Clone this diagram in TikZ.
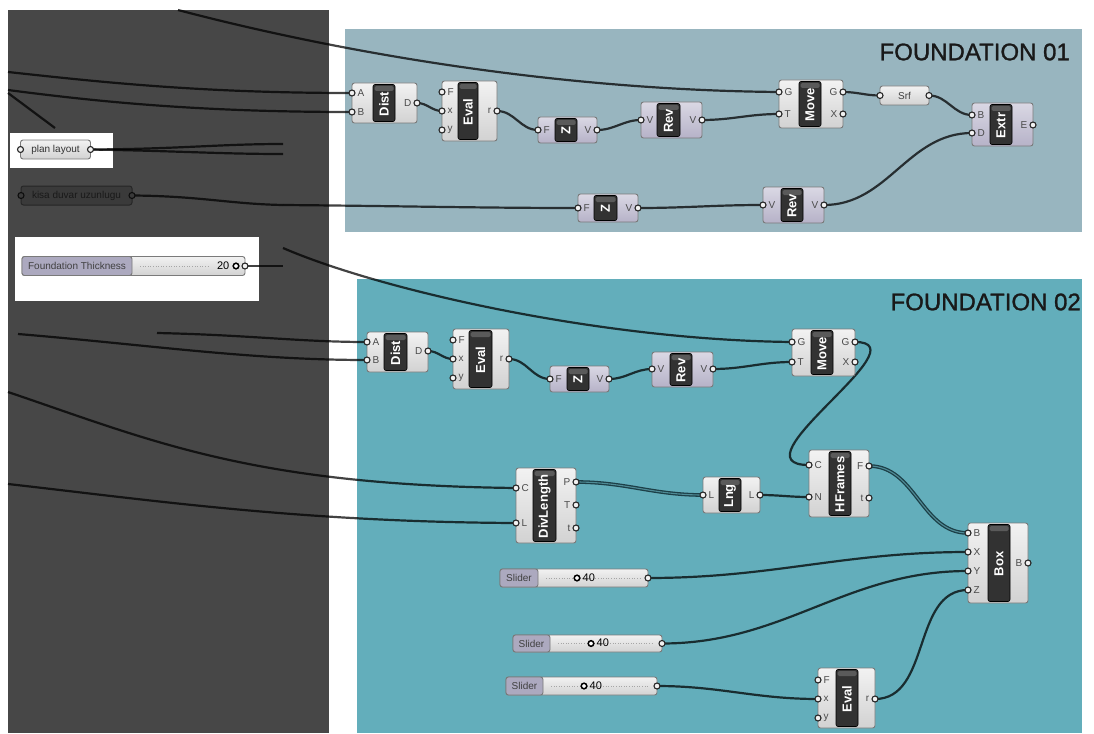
\documentclass[tikz,border=0pt]{standalone}
\usepackage{fontspec}
\setmainfont{Liberation Sans}
\setsansfont{Liberation Sans}
\newfontfamily\titlefont{Liberation Sans}[FakeBold=1.2]
\pgfdeclarelayer{bgl}
\pgfdeclarelayer{wirel}
\pgfsetlayers{bgl,wirel,main}
\definecolor{panel}{HTML}{474747}
\definecolor{grpA}{HTML}{98B5BF}
\definecolor{grpB}{HTML}{63AEBB}
\definecolor{compedge}{HTML}{7A7A7A}
\definecolor{wtop}{HTML}{F2F2F2}
\definecolor{wbot}{HTML}{D2D2D2}
\definecolor{ptop}{HTML}{DAD8E4}
\definecolor{pbot}{HTML}{B6B2C8}
\definecolor{blk}{HTML}{323232}
\definecolor{blkhi}{HTML}{5A5A5A}
\definecolor{slab}{HTML}{ACA9BF}
\definecolor{plabc}{HTML}{4A4A4A}
\definecolor{dwire}{HTML}{1C3F47}
\definecolor{kfill}{HTML}{3A3A3A}
\definecolor{kedge}{HTML}{262626}
\tikzset{
  wcomp/.style={top color=wtop,bottom color=wbot},
  pcomp/.style={top color=ptop,bottom color=pbot},
  compbox/.style={draw=compedge,line width=0.9pt,rounded corners=2.5pt,inner sep=0pt},
  blkbox/.style={fill=blk,draw=black,line width=0.6pt,rounded corners=2pt},
  blktext/.style={text=white,font=\bfseries\fontsize{13}{13}\selectfont,inner sep=0pt},
  plab/.style={text=plabc,font=\fontsize{10}{10}\selectfont,inner sep=0pt},
  portc/.style={fill=white!95!black,draw=black!85,line width=1.1pt},
  wire/.style={draw=black,draw opacity=0.74,line width=2.2pt},
  lwire/.style={draw=dwire,line width=1.3pt,double=grpB!80!black,double distance=1.1pt},
  title/.style={font=\titlefont\fontsize{24}{24}\selectfont,text=black!90,inner sep=0pt},
}
\newcommand\gcomp[9]{%
  \node[compbox,#9,minimum width={(#4-#2)*1pt},minimum height={(#5-#3)*1pt}] (#1) at ({(#2+#4)/2},{(#3+#5)/2}) {};
  \draw[blkbox] (#6,{#3+1.5}) rectangle (#7,{#5-1.5});
  \fill[blkhi,rounded corners=1.5pt] ({#6+1.5},{#3+3}) rectangle ({#7-1.5},{#3+8});
  \node[blktext,rotate=90] (#1-t) at ({(#6+#7)/2},{(#3+#5)/2+1}) {#8};
}
\newcommand\gin[4]{%
  \coordinate (#1) at (#2,#3);
  \node[plab,anchor=west] (#1-l) at ({#2+5.5},#3) {#4};
  \draw[portc] (#1) circle[radius=3pt];
}
\newcommand\gout[4]{%
  \coordinate (#1) at (#2,#3);
  \node[plab,anchor=east] (#1-l) at ({#2-5.5},#3) {#4};
  \draw[portc] (#1) circle[radius=3pt];
}
% slider: name, x1, x2, x3, y1, y2, knob x, value
\newcommand\gslider[8]{%
  \node[compbox,wcomp,minimum width={(#4-#2)*1pt},minimum height={(#6-#5)*1pt}] (#1) at ({(#2+#4)/2},{(#5+#6)/2}) {};
  \draw[compedge,fill=slab,line width=0.9pt,rounded corners=2.5pt] (#2,#5) rectangle (#3,#6);
  \node[plab,text=black!75] (#1-l) at ({(#2+#3)/2},{(#5+#6)/2}) {Slider};
  \draw[black!35,line width=0.6pt,dotted] ({#3+8},{(#5+#6)/2}) -- ({#4-8},{(#5+#6)/2});
  \draw[black,line width=1.5pt,fill=white] (#7,{(#5+#6)/2}) circle[radius=2.8pt];
  \node[plab,text=black,font=\fontsize{11}{11}\selectfont,anchor=west] (#1-v) at ({#7+5.5},{(#5+#6)/2-0.5}) {#8};
  \coordinate (#1o) at (#4,{(#5+#6)/2});
  \draw[portc] (#1o) circle[radius=3pt];
}
\begin{document}
\begin{tikzpicture}[x=1pt,y=-1pt]
\useasboundingbox (0,0) rectangle (1094,733);
\begin{pgfonlayer}{bgl}
  \fill[white] (0,0) rectangle (1094,733);
  \fill[panel] (8,10) rectangle (329,733);
  \fill[grpA] (345,29) rectangle (1082,232);
  \fill[grpB] (357,279) rectangle (1082,733);
  \fill[white] (10,133) rectangle (113,168);
  \fill[white] (15,237) rectangle (259,301);
\end{pgfonlayer}
\node[title,anchor=east] (t1) at (1070,52) {FOUNDATION 01};
\node[title,anchor=east] (t2) at (1081,302) {FOUNDATION 02};

% ---- left panel parameters
\node[compbox,wcomp,minimum width=70pt,minimum height=19pt] (plan) at (55.5,149.5) {};
\node[plab,text=black!80] (plan-t) at (55.5,149.5) {plan layout};
\coordinate (planI) at (20.5,149.5); \coordinate (planO) at (90.5,149.5);
\draw[portc] (planI) circle[radius=3pt]; \draw[portc] (planO) circle[radius=3pt];

\node[draw=kedge,fill=kfill,line width=1pt,rounded corners=2.5pt,minimum width=111pt,minimum height=19pt,inner sep=0pt] (kisa) at (76.5,195.5) {};
\node[plab,text=black!90] (kisa-t) at (76.5,195.5) {kisa duvar uzunlugu};
\coordinate (kisaI) at (21,195.5); \coordinate (kisaO) at (132,195.5);
\draw[fill=kfill,draw=black!95,line width=1.1pt] (kisaI) circle[radius=3pt];
\draw[fill=kfill,draw=black!95,line width=1.1pt] (kisaO) circle[radius=3pt];

\node[compbox,wcomp,minimum width=223pt,minimum height=19pt] (ft) at (133.5,266) {};
\draw[compedge,fill=slab,line width=0.9pt,rounded corners=2.5pt] (22,256.5) rectangle (132,275.5);
\node[plab,text=black!75] (ft-l) at (77,266) {Foundation Thickness};
\draw[black!35,line width=0.6pt,dotted] (140,266) -- (210,266);
\node[plab,text=black,font=\fontsize{11}{11}\selectfont,anchor=east] (ft-v) at (229.5,265.5) {20};
\draw[black,line width=1.5pt,fill=white] (236,266) circle[radius=2.8pt];
\coordinate (ftO) at (245,266);
\draw[portc] (ftO) circle[radius=3pt];

% free wire ends
\coordinate (l1s) at (8,72);  \coordinate (l2s) at (8,90);
\coordinate (l3s) at (8,93);  \coordinate (l3e) at (55,128);
\coordinate (topS) at (178,10);
\coordinate (plA) at (283,144); \coordinate (plB) at (283,154);
\coordinate (kE) at (283,205);  \coordinate (ftE) at (283,266);
\coordinate (midS) at (283,248);
\coordinate (m1s) at (157,333); \coordinate (m2s) at (18,334);
\coordinate (m3s) at (8,392);   \coordinate (m4s) at (8,484);

% ---- FOUNDATION 01
\gcomp{dA}{352}{83}{417}{123}{373}{395}{Dist}{wcomp}
\gin{dAa}{352}{93}{A}\gin{dAb}{352}{112}{B}\gout{dAd}{417}{103}{D}
\gcomp{eA}{442}{81}{497}{141}{458}{478}{Eval}{wcomp}
\gin{eAf}{442}{92}{F}\gin{eAx}{442}{111}{x}\gin{eAy}{442}{130}{y}\gout{eAr}{497}{111}{r}
\gcomp{zA}{538}{117}{597}{143}{555}{577}{Z}{pcomp}
\gin{zAf}{538}{130}{F}\gout{zAv}{597}{130}{V}
\gcomp{rA}{641}{102}{702}{138}{657}{680}{Rev}{pcomp}
\gin{rAi}{641}{120}{V}\gout{rAo}{702}{120}{V}
\gcomp{mA}{779}{80}{843}{128}{799}{821}{Move}{wcomp}
\gin{mAg}{779}{92}{G}\gin{mAt}{779}{114}{T}\gout{mAG}{843}{92}{G}\gout{mAX}{843}{114}{X}
\node[compbox,wcomp,minimum width=49pt,minimum height=19pt] (srf) at (904.5,95.5) {};
\node[plab,text=black!75] (srf-t) at (904.5,95.5) {Srf};
\coordinate (srfI) at (880,95.5); \coordinate (srfO) at (929,95.5);
\draw[portc] (srfI) circle[radius=3pt]; \draw[portc] (srfO) circle[radius=3pt];
\gcomp{xA}{972}{103}{1033}{146}{990}{1012}{Extr}{pcomp}
\gin{xAb}{972}{115}{B}\gin{xAd}{972}{133}{D}\gout{xAe}{1033}{125}{E}
\gcomp{zB}{578}{194}{638}{222}{594}{617}{Z}{pcomp}
\gin{zBf}{578}{208}{F}\gout{zBv}{638}{208}{V}
\gcomp{rB}{763}{187}{824}{223}{781}{803}{Rev}{pcomp}
\gin{rBi}{763}{205}{V}\gout{rBo}{824}{205}{V}

% ---- FOUNDATION 02
\gcomp{dC}{367}{332}{428}{372}{384}{407}{Dist}{wcomp}
\gin{dCa}{367}{342}{A}\gin{dCb}{367}{360}{B}\gout{dCd}{428}{351}{D}
\gcomp{eC}{453}{329}{509}{389}{469}{492}{Eval}{wcomp}
\gin{eCf}{453}{340}{F}\gin{eCx}{453}{359}{x}\gin{eCy}{453}{378}{y}\gout{eCr}{509}{359}{r}
\gcomp{zC}{550}{366}{609}{392}{567}{589}{Z}{pcomp}
\gin{zCf}{550}{379}{F}\gout{zCv}{609}{379}{V}
\gcomp{rC}{652}{352}{713}{387}{670}{692}{Rev}{pcomp}
\gin{rCi}{652}{369}{V}\gout{rCo}{713}{369}{V}
\gcomp{mC}{792}{329}{855}{376}{811}{833}{Move}{wcomp}
\gin{mCg}{792}{342}{G}\gin{mCt}{792}{362}{T}\gout{mCG}{855}{342}{G}\gout{mCX}{855}{362}{X}
\gcomp{hC}{809}{450}{869}{517}{829}{851}{HFrames}{wcomp}
\gin{hCc}{809}{465}{C}\gin{hCn}{809}{497}{N}\gout{hCf}{869}{466}{F}\gout{hCt}{869}{498}{t}
\gcomp{dlC}{516}{468}{576}{543}{533}{556}{DivLength}{wcomp}
\gin{dlCc}{516}{488}{C}\gin{dlCl}{516}{523}{L}\gout{dlCp}{576}{482}{P}\gout{dlCT}{576}{505}{T}\gout{dlCt}{576}{528}{t}
\gcomp{lC}{703}{477}{760}{513}{719}{741}{Lng}{wcomp}
\gin{lCi}{703}{495}{L}\gout{lCo}{760}{495}{L}
\gcomp{bC}{968}{523}{1028}{603}{988}{1010}{Box}{wcomp}
\gin{bCb}{968}{533}{B}\gin{bCx}{968}{552}{X}\gin{bCy}{968}{571}{Y}\gin{bCz}{968}{590}{Z}\gout{bCo}{1028}{563}{B}
\gcomp{eD}{818}{668}{875}{728}{836}{858}{Eval}{wcomp}
\gin{eDf}{818}{680}{F}\gin{eDx}{818}{699}{x}\gin{eDy}{818}{718}{y}\gout{eDr}{875}{699}{r}
\gslider{s1}{500}{538}{648}{569}{587}{577}{40}
\gslider{s2}{513}{550}{662}{635}{652}{591}{40}
\gslider{s3}{506}{543}{657}{677}{695}{584}{40}

% ---- wires
\begin{pgfonlayer}{wirel}
  \draw[wire] (l1s) .. controls (100,82) and (200,93) .. (dAa);
  \draw[wire] (l2s) .. controls (100,102) and (200,112) .. (dAb);
  \draw[wire] (l3s) -- (l3e);
  \draw[wire] (topS) .. controls (330,50) and (550,90) .. (mAg);
  \draw[wire] (planO) .. controls (180,149) and (220,144) .. (plA);
  \draw[wire] (planO) .. controls (180,151) and (220,154) .. (plB);
  \draw[wire] (kisaO) .. controls (200,196) and (230,204) .. (kE);
  \draw[wire] (kE) .. controls (400,206) and (480,208) .. (zBf);
  \draw[wire] (ftO) -- (ftE);
  \draw[wire] (dAd) to[out=0,in=180] (eAx);
  \draw[wire] (eAr) to[out=0,in=180] (zAf);
  \draw[wire] (zAv) to[out=0,in=180] (rAi);
  \draw[wire] (rAo) to[out=0,in=180] (mAt);
  \draw[wire] (mAG) to[out=0,in=180] (srfI);
  \draw[wire] (srfO) to[out=0,in=180] (xAb);
  \draw[wire] (zBv) to[out=0,in=180] (rBi);
  \draw[wire] (rBo) to[out=0,in=180] (xAd);
  \draw[wire] (midS) .. controls (380,290) and (600,340) .. (mCg);
  \draw[wire] (m1s) .. controls (250,335) and (300,342) .. (dCa);
  \draw[wire] (m2s) .. controls (150,345) and (250,360) .. (dCb);
  \draw[wire] (m3s) .. controls (150,440) and (250,485) .. (dlCc);
  \draw[wire] (m4s) .. controls (150,500) and (300,522) .. (dlCl);
  \draw[wire] (dCd) to[out=0,in=180] (eCx);
  \draw[wire] (eCr) to[out=0,in=180] (zCf);
  \draw[wire] (zCv) to[out=0,in=180] (rCi);
  \draw[wire] (rCo) to[out=0,in=180] (mCt);
  \draw[wire] (mCG) .. controls (925,342) and (730,465) .. (hCc);
  \draw[lwire] (dlCp) to[out=0,in=180] (lCi);
  \draw[wire] (lCo) to[out=0,in=180] (hCn);
  \draw[lwire] (hCf) to[out=0,in=180] (bCb);
  \draw[wire] (s1o) to[out=0,in=180] (bCx);
  \draw[wire] (s2o) to[out=0,in=180] (bCy);
  \draw[wire] (s3o) to[out=0,in=180] (eDx);
  \draw[wire] (eDr) to[out=0,in=180] (bCz);
\end{pgfonlayer}
\end{tikzpicture}
\end{document}
